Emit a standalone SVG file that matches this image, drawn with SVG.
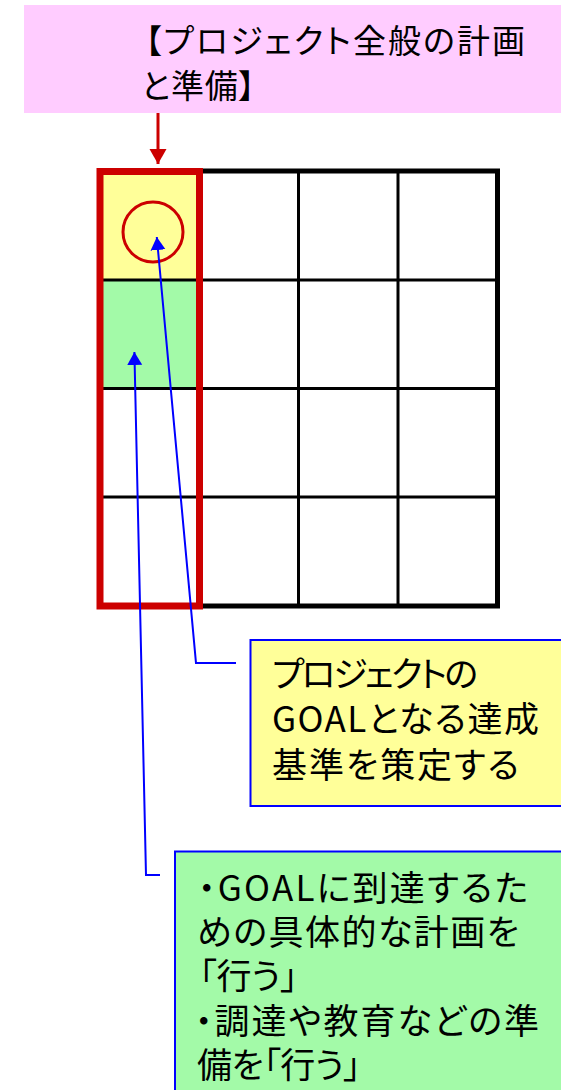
<svg xmlns="http://www.w3.org/2000/svg" width="561" height="1090" viewBox="0 0 561 1090">
<style>
.t{font-family:"Noto Sans CJK JP","Noto Sans",sans-serif;fill:#000;font-feature-settings:"palt";}
.t33{font-size:33px;}
.t35{font-size:35px;}
.thin{stroke:#000;stroke-width:3;fill:none;}
.conn{stroke:#0000FF;stroke-width:2;fill:none;marker-end:url(#blueHead);}
</style>
<defs>
<marker id="blueHead" markerUnits="userSpaceOnUse" markerWidth="14" markerHeight="16" refX="13" refY="7.5" orient="auto">
<path d="M0,0 L13,7.5 L0,15 z" fill="#0000FF"/>
</marker>
<marker id="redHead" markerUnits="userSpaceOnUse" markerWidth="16" markerHeight="18" refX="15" refY="8.5" orient="auto">
<path d="M0,0 L15,8.5 L0,17 z" fill="#CC0000"/>
</marker>
</defs>
<rect width="561" height="1090" fill="#FFFFFF"/>

<g id="title">
<rect x="24" y="5" width="545" height="108" fill="#FFCCFF"/>
<text class="t t33" x="145" y="53" textLength="380" lengthAdjust="spacing">【プロジェクト全般の計画</text>
<text class="t t33" x="141" y="98" textLength="114" lengthAdjust="spacing">と準備】</text>
</g>

<g id="grid">
<rect x="100" y="280" width="99" height="108" fill="#A3FAA8"/>
<rect x="100" y="171" width="99" height="109" fill="#FFFF99"/>
<line class="thin" x1="100" y1="280" x2="498" y2="280"/>
<line class="thin" x1="100" y1="388.5" x2="498" y2="388.5"/>
<line class="thin" x1="100" y1="497" x2="498" y2="497"/>
<line class="thin" x1="298.5" y1="171" x2="298.5" y2="606"/>
<line class="thin" x1="398" y1="171" x2="398" y2="606"/>
<rect x="100" y="171" width="397.5" height="435" fill="none" stroke="#000" stroke-width="5"/>
</g>

<g id="column-highlight">
<rect x="100" y="171.5" width="99.5" height="434.5" fill="none" stroke="#CC0000" stroke-width="7"/>
</g>

<g id="goal-circle">
<circle cx="153" cy="232" r="30" fill="none" stroke="#CC0000" stroke-width="3"/>
</g>

<g id="connectors">
<line x1="158" y1="113" x2="158" y2="164" stroke="#CC0000" stroke-width="3" marker-end="url(#redHead)"/>
<polyline class="conn" points="236,663 196,663 156.8,237"/>
<polyline class="conn" points="160,875 146,875 134.4,352"/>
</g>

<g id="goal-note">
<rect x="250.5" y="640" width="330" height="166" fill="#FFFF99" stroke="#0000FF" stroke-width="2"/>
<text class="t t35" x="272" y="687" textLength="206" lengthAdjust="spacing">プロジェクトの</text>
<text class="t t35" x="272" y="732" textLength="267" lengthAdjust="spacing">GOALとなる達成</text>
<text class="t t35" x="272" y="778" textLength="247" lengthAdjust="spacing">基準を策定する</text>
</g>

<g id="plan-note">
<rect x="175" y="851.5" width="400" height="260" fill="#A3FAA8" stroke="#0000FF" stroke-width="2"/>
<text class="t t35" x="198" y="901" textLength="330" lengthAdjust="spacing">・GOALに到達するた</text>
<text class="t t35" x="197" y="945" textLength="322" lengthAdjust="spacing">めの具体的な計画を</text>
<text class="t t35" x="199" y="989" textLength="99" lengthAdjust="spacing">「行う」</text>
<text class="t t35" x="195" y="1034" textLength="344" lengthAdjust="spacing">・調達や教育などの準</text>
<text class="t t35" x="197" y="1078" textLength="164" lengthAdjust="spacing">備を「行う」</text>
</g>
</svg>
